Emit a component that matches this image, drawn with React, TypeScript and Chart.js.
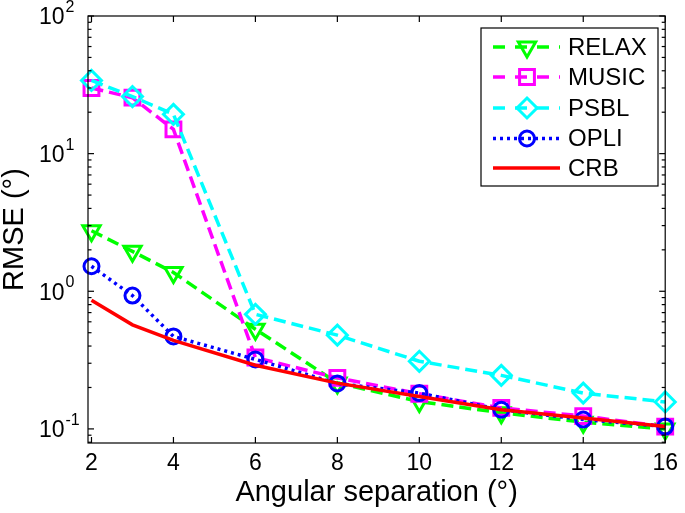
import React, { useEffect, useRef } from 'react';
import { Chart, registerables } from 'chart.js';
Chart.register(...registerables);

const xValues = [2, 3, 4, 6, 8, 10, 12, 14, 16];
const relax = [2.75, 1.95, 1.37, 0.53, 0.216, 0.158, 0.131, 0.112, 0.1];
const music = [30, 25.5, 15, 0.33, 0.235, 0.18, 0.142, 0.124, 0.104];
const psbl = [34, 26, 19.3, 0.68, 0.48, 0.31, 0.245, 0.182, 0.157];
const opli = [1.52, 0.93, 0.47, 0.32, 0.214, 0.182, 0.138, 0.117, 0.104];
const crb = [0.86, 0.57, 0.44, 0.29, 0.215, 0.172, 0.138, 0.12, 0.104];

const xTicks = [2, 4, 6, 8, 10, 12, 14, 16];
const yTicks = [0.1, 1, 10, 100];
const yTickExponents = ['-1', '0', '1', '2'];

const FONT = '"Liberation Sans", Arial, Helvetica, sans-serif';

type Series = { label: string; values: number[]; color: string; dash: number[]; marker: string | false; rot: number; radius: number; order: number };

const series: Series[] = [
  { label: 'RELAX', values: relax, color: '#00ff00', dash: [12, 6], marker: 'triangle', rot: 180, radius: 10, order: 5 },
  { label: 'MUSIC', values: music, color: '#ff00ff', dash: [12, 6], marker: 'rect', rot: 0, radius: 10.5, order: 4 },
  { label: 'PSBL', values: psbl, color: '#00ffff', dash: [12, 6], marker: 'rectRot', rot: 0, radius: 10, order: 3 },
  { label: 'OPLI', values: opli, color: '#0000ff', dash: [3, 4], marker: 'circle', rot: 0, radius: 7.5, order: 2 },
  { label: 'CRB', values: crb, color: '#ff0000', dash: [], marker: false, rot: 0, radius: 0, order: 1 },
];

function drawMarker(ctx: CanvasRenderingContext2D, style: string, x: number, y: number, r: number, rot: number) {
  ctx.beginPath();
  if (style === 'circle') {
    ctx.arc(x, y, r, 0, Math.PI * 2);
  } else if (style === 'triangle') {
    let a = (rot * Math.PI) / 180;
    for (let i = 0; i < 3; i++) {
      const px = x + Math.sin(a) * r;
      const py = y - Math.cos(a) * r;
      if (i === 0) ctx.moveTo(px, py); else ctx.lineTo(px, py);
      a += (2 * Math.PI) / 3;
    }
    ctx.closePath();
  } else if (style === 'rect' || style === 'rectRot') {
    let a = style === 'rectRot' ? 0 : Math.PI / 4;
    for (let i = 0; i < 4; i++) {
      const px = x + Math.sin(a) * r;
      const py = y - Math.cos(a) * r;
      if (i === 0) ctx.moveTo(px, py); else ctx.lineTo(px, py);
      a += Math.PI / 2;
    }
    ctx.closePath();
  }
  ctx.stroke();
}

const framePlugin = {
  id: 'frame',
  afterDatasetsDraw(chart: any) {
    const { ctx, chartArea, scales } = chart;
    const { left, right, top, bottom } = chartArea;
    const xs = scales.x;
    const ys = scales.y;
    ctx.save();
    ctx.strokeStyle = '#000';
    ctx.lineWidth = 1.2;
    ctx.setLineDash([]);
    ctx.strokeRect(left, top, right - left, bottom - top);
    const line = (x1: number, y1: number, x2: number, y2: number) => {
      ctx.beginPath();
      ctx.moveTo(x1, y1);
      ctx.lineTo(x2, y2);
      ctx.stroke();
    };
    xTicks.forEach((v) => {
      const px = xs.getPixelForValue(v);
      line(px, bottom, px, bottom - 6);
      line(px, top, px, top + 6);
    });
    for (let d = -2; d <= 2; d++) {
      for (let m = 1; m <= 9; m++) {
        const v = m * Math.pow(10, d);
        if (v < ys.min || v > ys.max * 1.0001) continue;
        const py = ys.getPixelForValue(v);
        const len = m === 1 ? 6 : 3.5;
        line(left, py, left + len, py);
        line(right, py, right - len, py);
      }
    }
    // y tick labels: 10 with superscript exponent
    ctx.fillStyle = '#000';
    yTicks.forEach((v, i) => {
      const py = ys.getPixelForValue(v);
      ctx.font = `23px ${FONT}`;
      ctx.textAlign = 'right';
      ctx.textBaseline = 'alphabetic';
      ctx.fillText('10', 64.5, py + 8.3);
      ctx.font = `16px ${FONT}`;
      ctx.textAlign = 'left';
      ctx.fillText(yTickExponents[i], 65.5, py - 3.8);
    });
    ctx.restore();
  },
  afterDraw(chart: any) {
    const ctx: CanvasRenderingContext2D = chart.ctx;
    ctx.save();
    const bx = 481, by = 28, bw = 177, bh = 158;
    ctx.fillStyle = '#fff';
    ctx.fillRect(bx, by, bw, bh);
    ctx.strokeStyle = '#000';
    ctx.lineWidth = 1.2;
    ctx.setLineDash([]);
    ctx.strokeRect(bx, by, bw, bh);
    const rowY = [47, 77, 108, 138.5, 168];
    series.forEach((s, i) => {
      const y = rowY[i];
      ctx.strokeStyle = s.color;
      ctx.lineWidth = 3.5;
      ctx.setLineDash(s.dash.length ? (s.dash[0] > 5 ? [12, 10] : s.dash) : []);
      ctx.beginPath();
      ctx.moveTo(493, y);
      ctx.lineTo(560, y);
      ctx.stroke();
      ctx.setLineDash([]);
      ctx.lineWidth = 3;
      if (s.marker) drawMarker(ctx, s.marker as string, 527, y, s.radius, s.rot);
      ctx.fillStyle = '#000';
      ctx.font = `24px ${FONT}`;
      ctx.textBaseline = 'middle';
      ctx.textAlign = 'left';
      ctx.fillText(s.label, 568, y + 1);
    });
    ctx.restore();
  },
};

export default function App() {
  const ref = useRef<HTMLCanvasElement | null>(null);
  useEffect(() => {
    if (!ref.current) return;
    const chart = new Chart(ref.current, {
      type: 'line',
      data: {
        datasets: series.map((s) => ({
          label: s.label,
          data: xValues.map((x, i) => ({ x, y: s.values[i] })),
          borderColor: s.color,
          backgroundColor: s.color,
          borderWidth: 3.5,
          borderDash: s.dash,
          pointStyle: s.marker === false ? false : (s.marker as any),
          pointRotation: s.rot,
          pointRadius: s.marker === false ? 0 : s.radius,
          pointBorderWidth: 3,
          pointBorderColor: s.color,
          pointBackgroundColor: 'rgba(0,0,0,0)',
          fill: false,
          tension: 0,
          order: s.order,
          clip: false as any,
        })),
      },
      options: {
        animation: false,
        responsive: false,
        devicePixelRatio: 1,
        layout: { padding: { top: 16, right: 15, left: 0, bottom: 0 } },
        plugins: { legend: { display: false }, tooltip: { enabled: false } },
        scales: {
          x: {
            type: 'linear',
            min: 1.915,
            max: 16,
            grid: { display: false, drawTicks: false },
            border: { display: false },
            afterBuildTicks: (scale: any) => {
              scale.ticks = xTicks.map((v) => ({ value: v }));
            },
            afterFit: (scale: any) => {
              scale.height = 70;
            },
            ticks: {
              color: '#000',
              font: { family: FONT, size: 23 },
              padding: 7,
              maxRotation: 0,
              autoSkip: false,
              callback: (v: any) => String(v),
            },
            title: {
              display: true,
              text: 'Angular separation (°)',
              color: '#000',
              font: { family: FONT, size: 29, lineHeight: 1 },
              padding: { top: 0, bottom: 6 },
            },
          },
          y: {
            type: 'logarithmic',
            min: 0.079,
            max: 100,
            grid: { display: false, drawTicks: false },
            border: { display: false },
            afterBuildTicks: (scale: any) => {
              scale.ticks = yTicks.map((v) => ({ value: v }));
            },
            afterFit: (scale: any) => {
              scale.width = 88;
            },
            ticks: { display: false },
            title: {
              display: true,
              text: 'RMSE (°)',
              color: '#000',
              font: { family: FONT, size: 29, lineHeight: 1 },
              padding: { top: 0, bottom: 0 },
            },
          },
        },
      },
      plugins: [framePlugin],
    } as any);
    return () => chart.destroy();
  }, []);
  return (
    <div style={{ position: 'absolute', left: 0, top: 0, width: 685, height: 513, background: '#fff' }}>
      <canvas ref={ref} width={685} height={513} style={{ display: 'block' }} />
    </div>
  );
}
